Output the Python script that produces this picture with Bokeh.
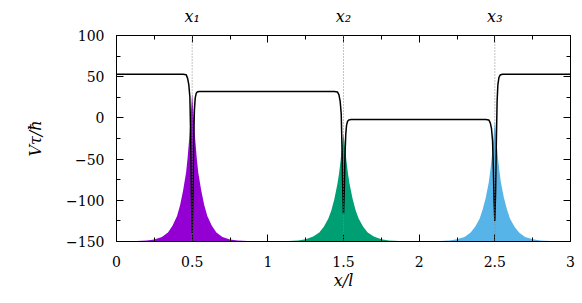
from bokeh.plotting import figure
from bokeh.models import Range1d, LinearAxis, FixedTicker, CustomJSTickFormatter, Span
from bokeh.embed import file_html
from bokeh.resources import INLINE

# ---- data ----
site_x = [0.5, 1.5, 2.5]
site_labels = ["x\u2081", "x\u2082", "x\u2083"]

# potential V*tau/hbar along x/l
pot_x = [0.0, 0.44, 0.46, 0.47, 0.478, 0.485, 0.49, 0.495, 0.5, 0.505, 0.51, 0.515, 0.52, 0.527, 0.535, 0.55,
         1.44, 1.46, 1.47, 1.478, 1.485, 1.49, 1.495, 1.5, 1.505, 1.51, 1.515, 1.52, 1.527, 1.535, 1.55,
         2.44, 2.46, 2.47, 2.478, 2.485, 2.49, 2.495, 2.5, 2.505, 2.51, 2.515, 2.52, 2.527, 2.535, 2.55, 3.0]
pot_v = [53, 53, 52.5, 48, 40, 25, -20, -90, -140, -90, -25, 10, 24, 30, 31.7, 32,
         32, 31.5, 28, 20, 5, -35, -85, -116, -88, -45, -20, -9, -4, -2.5, -2,
         -2, -2.5, -6, -13, -28, -60, -100, -125, -90, -30, 20, 40, 49, 52, 53, 53]

# densities (height above the -150 baseline), at distances from each site
dens_offset = [0.0, 0.01, 0.02, 0.03, 0.04, 0.06, 0.08, 0.1, 0.13, 0.16, 0.2, 0.25, 0.3, 0.4, 0.5]
dens_1 = [180, 152, 124, 102, 84, 62, 44, 31, 19, 11, 5.5, 2.5, 1.2, 0.3, 0.0]
dens_2 = [131, 114, 97, 82, 70, 52, 38, 28, 18, 11, 6, 2.8, 1.3, 0.3, 0.0]
dens_3 = [147, 124, 103, 86, 72, 53, 39, 28, 18, 11, 5.5, 2.6, 1.2, 0.3, 0.0]
dens_colors = ["#9400D3", "#009E73", "#56B4E9"]
baseline = -150

FONT = "DejaVu Serif"

p = figure(width=582, height=303, output_backend="svg", toolbar_location=None,
           x_range=Range1d(0, 3), y_range=Range1d(-150, 100),
           min_border_left=116, min_border_right=12, min_border_top=35, min_border_bottom=62,
           background_fill_color="white", border_fill_color="white")
p.grid.visible = False
p.outline_line_color = "black"
p.outline_line_width = 1

for x0, dens, col in zip(site_x, [dens_1, dens_2, dens_3], dens_colors):
    xs = [x0 - d for d in reversed(dens_offset)] + [x0 + d for d in dens_offset[1:]]
    ys = list(reversed(dens)) + dens[1:]
    p.varea(x=xs, y1=[baseline] * len(xs), y2=[baseline + v for v in ys], fill_color=col)

for x0 in site_x:
    p.add_layout(Span(location=x0, dimension="height", line_color="#888888", line_width=1, line_dash="1 2"))

p.line(pot_x, pot_v, line_color="black", line_width=1.5)

xticks = FixedTicker(ticks=[0, 0.5, 1, 1.5, 2, 2.5, 3], minor_ticks=[0.25, 0.75, 1.25, 1.75, 2.25, 2.75])
yticks = FixedTicker(ticks=[-150, -100, -50, 0, 50, 100], minor_ticks=[-125, -75, -25, 25, 75])

def style(ax, font):
    ax.axis_line_color = "black"
    ax.major_tick_in = 7
    ax.major_tick_out = 0
    ax.minor_tick_in = 4
    ax.minor_tick_out = 0
    ax.major_tick_line_color = "black"
    ax.minor_tick_line_color = "black"
    ax.major_label_text_font = font
    ax.major_label_text_font_size = "14px"
    ax.major_label_text_color = "black"
    ax.axis_label_text_font = font
    ax.axis_label_text_font_size = "16px"
    ax.axis_label_text_font_style = "italic"
    ax.axis_label_text_color = "black"

xa = p.xaxis[0]
xa.ticker = xticks
xa.formatter = CustomJSTickFormatter(code="return tick.toString();")
xa.axis_label = "x/l"
xa.major_label_standoff = 14
xa.axis_label_standoff = 1
style(xa, FONT)

ya = p.yaxis[0]
ya.ticker = yticks
ya.formatter = CustomJSTickFormatter(code="return tick < 0 ? '\u2212' + (-tick) : tick.toString();")
ya.axis_label = "V\u03c4/\u0127"
ya.major_label_standoff = 12
ya.axis_label_standoff = 18
style(ya, FONT)

top = LinearAxis(ticker=xticks,
                 formatter=CustomJSTickFormatter(args=dict(pos=site_x, lab=site_labels),
                                                 code="const i = pos.indexOf(tick); return i >= 0 ? lab[i] : '';"))
style(top, FONT)
top.major_label_text_font_size = "16px"
top.major_label_text_font_style = "italic"
top.major_label_standoff = 10
p.add_layout(top, "above")

right = LinearAxis(ticker=yticks, formatter=CustomJSTickFormatter(code="return '';"))
style(right, FONT)
right.major_label_standoff = 0
p.add_layout(right, "right")

open("out.html", "w").write(file_html(p, INLINE))
